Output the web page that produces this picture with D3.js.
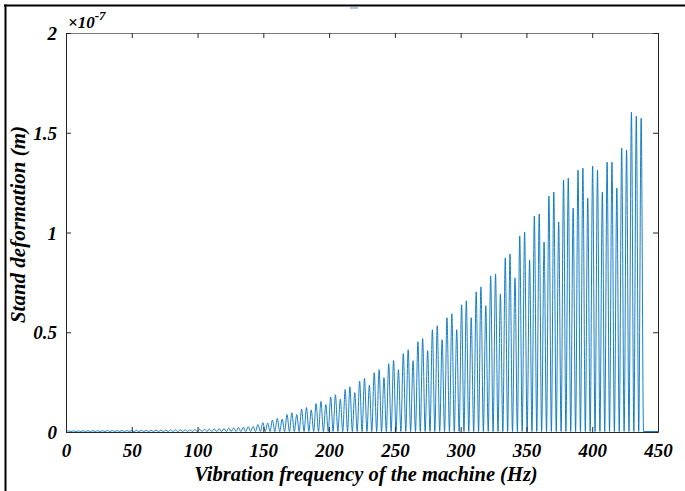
<!DOCTYPE html>
<html><head><meta charset="utf-8">
<script src="https://cdn.jsdelivr.net/npm/d3@7"></script>
<style>body{margin:0;background:#fff}svg{display:block}</style>
</head><body>
<svg id="c" width="685" height="491"></svg>
<script>
const xTicks = [0, 50, 100, 150, 200, 250, 300, 350, 400, 450];
const yTicks = [0, 0.5, 1, 1.5, 2];
const yTickLabels = ["0", "0.5", "1", "1.5", "2"];
const xLabel = "Vibration frequency of the machine (Hz)";
const yLabel = "Stand deformation (m)";
const exponentLabel = "-7";

// peaks (Hz, deformation in 1e-7 m)
const peakFreq = [2.0, 5.7, 9.4, 13.0, 16.7, 20.4, 24.1, 27.8, 31.5, 35.2, 38.9, 42.6, 46.3, 49.9, 53.6, 57.3, 61.0, 64.7, 68.4, 72.1, 75.8, 79.5, 83.2, 86.9, 90.6, 94.2, 97.9, 101.6, 105.3, 109.0, 112.7, 116.4, 120.1, 123.7, 127.4, 131.1, 134.8, 138.5,
  142.2, 145.9, 149.6, 153.3, 156.9, 160.6, 164.3, 168.0, 171.7, 175.4, 179.1, 182.8, 186.4, 190.1, 193.8, 197.5, 201.2, 204.8, 208.5, 212.2, 215.8, 219.5, 223.2, 226.9, 230.6, 234.3, 238.0, 241.7, 245.3, 249.0, 252.7, 256.4, 260.1, 263.8, 267.5, 271.1, 274.9, 278.5, 282.2, 285.9, 289.6, 293.3, 297.0, 300.7, 304.3, 308.0, 311.8, 315.4, 319.1, 322.8, 326.5, 330.2, 333.9, 337.5, 341.3, 344.9, 348.6, 352.4, 356.0, 359.7, 363.4, 367.1, 370.8, 374.5, 378.2, 381.8, 385.5, 389.2, 392.9, 396.6, 400.3, 404.0, 407.7, 411.3, 415.0, 418.7, 422.4, 426.1, 429.8, 433.5, 437.2];
const peakDeform = [0.003, 0.003, 0.003, 0.004, 0.004, 0.004, 0.004, 0.004, 0.005, 0.005, 0.005, 0.005, 0.005, 0.005, 0.006, 0.006, 0.006, 0.006, 0.007, 0.007, 0.007, 0.008, 0.008, 0.008, 0.009, 0.009, 0.010, 0.011, 0.011, 0.012, 0.013, 0.014, 0.015, 0.017, 0.018, 0.020, 0.021, 0.024,
  0.025, 0.035, 0.044, 0.042, 0.058, 0.066, 0.062, 0.085, 0.094, 0.085, 0.112, 0.120, 0.108, 0.140, 0.151, 0.135, 0.173, 0.184, 0.162, 0.210, 0.224, 0.195, 0.252, 0.266, 0.232, 0.295, 0.310, 0.270, 0.340, 0.356, 0.310, 0.390, 0.410, 0.355, 0.450, 0.466, 0.405, 0.510, 0.530, 0.460, 0.570, 0.590, 0.510, 0.635, 0.655, 0.570, 0.700, 0.725, 0.630, 0.780, 0.790, 0.690, 0.870, 0.890, 0.770, 0.980, 1.000, 0.860, 1.080, 1.090, 0.950, 1.180, 1.200, 1.050, 1.260, 1.270, 1.120, 1.310, 1.320, 1.170, 1.330, 1.310, 1.200, 1.350, 1.350, 1.220, 1.420, 1.410, 1.600, 1.580, 1.570];
// troughs (Hz)
const troughFreq = [0.0, 3.85, 7.55, 11.2, 14.85, 18.55, 22.25, 25.95, 29.65, 33.35, 37.05, 40.75, 44.45, 48.1, 51.75, 55.45, 59.15, 62.85, 66.55, 70.25, 73.95, 77.65, 81.35, 85.05, 88.75, 92.4, 96.05, 99.75, 103.45, 107.15, 110.85, 114.55, 118.25, 121.9, 125.55, 129.25, 132.95, 136.65, 140.35,
  144.05, 147.75, 151.45, 155.1, 158.75, 162.45, 166.15, 169.85, 173.55, 177.25, 180.95, 184.6, 188.25, 191.95, 195.65, 199.35, 203.0, 206.65, 210.35, 214.0, 217.65, 221.35, 225.05, 228.75, 232.45, 236.15, 239.85, 243.5, 247.15, 250.85, 254.55, 258.25, 261.95, 265.65, 269.3, 273.0, 276.7, 280.35, 284.05, 287.75, 291.45, 295.15, 298.85, 302.5, 306.15, 309.9, 313.6, 317.25, 320.95, 324.65, 328.35, 332.05, 335.7, 339.4, 343.1, 346.75, 350.5, 354.2, 357.85, 361.55, 365.25, 368.95, 372.65, 376.35, 380.0, 383.65, 387.35, 391.05, 394.75, 398.45, 402.15, 405.85, 409.5, 413.15, 416.85, 420.55, 424.25, 427.95, 431.65, 435.35, 439.0, 450.0];
const troughDeform = [0, 0, 0, 0, 0, 0, 0, 0, 0, 0, 0, 0, 0, 0, 0, 0, 0, 0, 0, 0, 0, 0, 0, 0, 0, 0, 0, 0, 0, 0, 0, 0, 0, 0, 0, 0, 0, 0, 0,
  0, 0, 0, 0, 0, 0, 0, 0, 0, 0, 0, 0, 0, 0, 0, 0, 0, 0, 0, 0, 0, 0, 0, 0, 0, 0, 0, 0, 0, 0, 0, 0, 0, 0, 0, 0, 0, 0, 0, 0, 0, 0, 0, 0, 0, 0, 0, 0, 0, 0, 0, 0, 0, 0, 0, 0, 0, 0, 0, 0, 0, 0, 0, 0, 0, 0, 0, 0, 0, 0, 0, 0, 0, 0, 0, 0, 0, 0, 0, 0, 0, 0, 0];

const svg = d3.select("#c");
const W = 685, H = 491;
const m = {left: 66, right: 27, top: 33, bottom: 59};
const x = d3.scaleLinear().domain([0, 450]).range([m.left, W - m.right]);
const y = d3.scaleLinear().domain([0, 2]).range([H - m.bottom, m.top]);
const font = "'Liberation Serif', 'Times New Roman', serif";

svg.append("rect").attr("width", W).attr("height", H).attr("fill", "#fff");
// outer frame
svg.append("line").attr("x1", 4).attr("x2", W).attr("y1", 5.5).attr("y2", 5.5).attr("stroke", "#000").attr("stroke-width", 2);
svg.append("line").attr("x1", 5.5).attr("x2", 5.5).attr("y1", 4.5).attr("y2", H).attr("stroke", "#000").attr("stroke-width", 2);
svg.append("line").attr("x1", 350).attr("x2", 358).attr("y1", 8).attr("y2", 8).attr("stroke", "#8fb3d9").attr("stroke-width", 1.5);

const pts = peakFreq.map((f, i) => [f, peakDeform[i]])
  .concat(troughFreq.map((f, i) => [f, troughDeform[i]]))
  .sort((a, b) => a[0] - b[0]);

svg.append("path").datum(pts)
  .attr("fill", "none").attr("stroke", "#0072BD").attr("stroke-width", 0.9)
  .attr("d", d3.line().x(d => x(d[0])).y(d => y(d[1]) - 0.5).curve(d3.curveMonotoneX));

// axes with inward ticks
const axColor = "#262626";
const gx = svg.append("g").attr("transform", `translate(0,${y(0)})`)
  .call(d3.axisBottom(x).tickValues(xTicks).tickSizeInner(-5).tickSizeOuter(0).tickFormat(d3.format("d")));
const gxt = svg.append("g").attr("transform", `translate(0,${y(2)})`)
  .call(d3.axisTop(x).tickValues(xTicks).tickSizeInner(-5).tickSizeOuter(0).tickFormat(""));
const gy = svg.append("g").attr("transform", `translate(${x(0)},0)`)
  .call(d3.axisLeft(y).tickValues(yTicks).tickSizeInner(-5).tickSizeOuter(0).tickFormat((d, i) => yTickLabels[i]));
const gyr = svg.append("g").attr("transform", `translate(${x(450)},0)`)
  .call(d3.axisRight(y).tickValues(yTicks).tickSizeInner(-5).tickSizeOuter(0).tickFormat(""));
[gx, gxt, gy, gyr].forEach(g => {
  g.select(".domain").attr("stroke", axColor).attr("stroke-width", 1);
  g.selectAll(".tick line").attr("stroke", axColor);
});
gxt.select(".domain").attr("stroke", "#7a7a7a");
gx.selectAll(".tick text").attr("font-family", font).attr("font-size", 19).attr("font-weight", "bold")
  .attr("font-style", "italic").attr("fill", "#000").attr("y", 12).attr("dy", "0.71em");
gy.selectAll(".tick text").attr("font-family", font).attr("font-size", 19).attr("font-weight", "bold")
  .attr("font-style", "italic").attr("fill", "#000").attr("x", -9).attr("dy", "0.35em");

svg.append("text").attr("x", (x(0) + x(450)) / 2 + 4).attr("y", 481).attr("text-anchor", "middle")
  .attr("font-family", font).attr("font-size", 20.5).attr("font-weight", "bold").attr("font-style", "italic")
  .text(xLabel);
svg.append("text").attr("transform", `translate(25,${(y(0) + y(2)) / 2 - 8}) rotate(-90)`).attr("text-anchor", "middle")
  .attr("font-family", font).attr("font-size", 21).attr("font-weight", "bold").attr("font-style", "italic")
  .text(yLabel);
const ex = svg.append("text").attr("x", 68).attr("y", 28)
  .attr("font-family", font).attr("font-size", 17).attr("font-weight", "bold").attr("font-style", "italic");
ex.append("tspan").text("\u00d710");
ex.append("tspan").attr("dy", -8).attr("font-size", 13).text(exponentLabel);
</script>
</body></html>
